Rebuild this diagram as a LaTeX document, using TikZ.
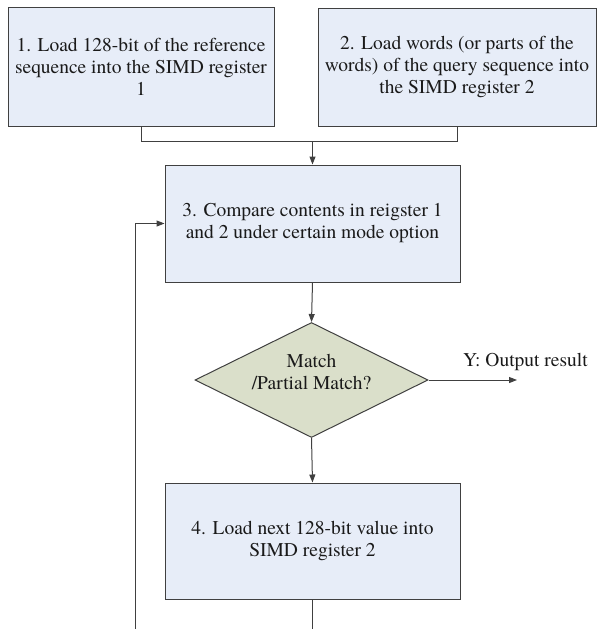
\documentclass[tikz,border=0pt]{standalone}
\usepackage{fontspec}
\setmainfont{texgyretermes}[Extension=.otf, UprightFont=*-regular, BoldFont=*-bold]
\usetikzlibrary{arrows.meta,shapes.geometric}
\definecolor{boxblue}{HTML}{E7EDF8}
\definecolor{decgreen}{HTML}{DADFCA}
\definecolor{linegray}{HTML}{404040}
\definecolor{textgray}{HTML}{1A1A1A}
\begin{document}
\begin{tikzpicture}[x=1pt,y=-1pt,
  txt/.style={font=\fontsize{19.5}{22}\selectfont, text=textgray, align=center},
  procbox/.style={txt, draw=linegray, fill=boxblue, line width=1pt, inner sep=0pt,
    minimum width=295pt, minimum height=117pt},
  decision/.style={diamond, draw=linegray, fill=decgreen, line width=1pt, inner sep=0pt,
    aspect=2, minimum width=233pt, minimum height=115pt},
  link/.style={draw=linegray, line width=1pt},
  flow/.style={link, -{Triangle[length=8pt,width=6pt]}}]
  \useasboundingbox (0,0) rectangle (599,629);

  % process steps
  \node[procbox, minimum width=266pt, minimum height=119pt] (b1) at (141,66.5)
    {1. Load 128-bit of the reference\\sequence into the SIMD register\\1};
  \node[procbox, minimum width=278pt, minimum height=118pt] (b2) at (457,67)
    {2. Load words (or parts of the\\words) of the query sequence into\\the SIMD register 2};
  \node[procbox] (b3) at (312.5,223.5)
    {3. Compare contents in reigster 1\\and 2 under certain mode option};
  \node[decision] (d) at (311.5,380) {};
  \node[txt] (dtext) at (311.5,372) {Match\\/Partial Match?};
  \node[procbox, minimum height=116pt] (b4) at (312.5,541)
    {4. Load next 128-bit value into\\SIMD register 2};
  \node[txt, anchor=west, inner sep=0pt] (ylab) at (463,362) {Y: Output result};

  % connector end points
  \coordinate (join) at (312.5,141);
  \coordinate (yend) at (517,380);
  \coordinate (downend) at (312.5,629);
  \coordinate (loopstart) at (135,629);
  \coordinate (loopcorner) at (135,223.5);

  % connectors
  \draw[link] (b1.south) |- (join);
  \draw[link] (b2.south) |- (join);
  \draw[flow] (join) -- (b3.north);
  \draw[flow] (b3.south) -- (d.north);
  \draw[flow] (d.east) -- (yend);
  \draw[flow] (d.south) -- (b4.north);
  \draw[link] (b4.south) -- (downend);
  \draw[flow] (loopstart) -- (loopcorner) -- (b3.west);
\end{tikzpicture}
\end{document}
